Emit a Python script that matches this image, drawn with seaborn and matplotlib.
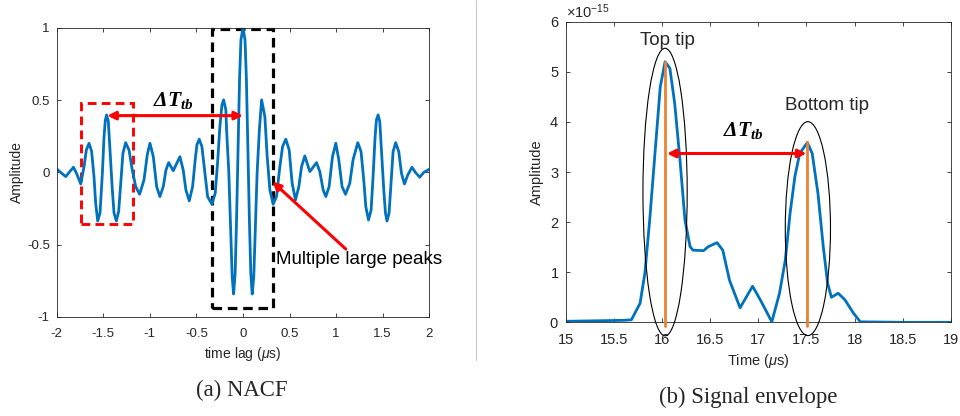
import numpy as np
import pandas as pd
import matplotlib
matplotlib.use("Agg")
import matplotlib.pyplot as plt
from matplotlib.patches import Rectangle, Ellipse
from matplotlib.ticker import ScalarFormatter
import seaborn as sns

# ---------------- data ----------------
# (a) NACF curve
lag_us = [-2.00, -1.957, -1.903, -1.86, -1.82, -1.785, -1.742, -1.707, -1.682, -1.653,
          -1.625, -1.60, -1.582, -1.56, -1.535, -1.51, -1.492, -1.478, -1.464, -1.446,
          -1.428, -1.403, -1.385, -1.36, -1.335, -1.313, -1.289, -1.26, -1.224, -1.189,
          -1.152, -1.11, -1.063, -1.028, -0.999, -0.963, -0.927, -0.892, -0.856, -0.827,
          -0.798, -0.749, -0.677, -0.642, -0.613, -0.577, -0.541, -0.513, -0.495, -0.47,
          -0.441, -0.409, -0.38, -0.334, -0.298, -0.273, -0.248, -0.226, -0.208, -0.184,
          -0.176, -0.152, -0.13, -0.116, -0.101, -0.084, -0.069, -0.052, -0.037, -0.022,
          0.0,
          0.022, 0.037, 0.052, 0.069, 0.084, 0.099, 0.116, 0.13, 0.152, 0.176,
          0.2, 0.235, 0.26, 0.289, 0.324, 0.36, 0.396, 0.425, 0.46, 0.496,
          0.528, 0.564, 0.60, 0.629, 0.664, 0.718, 0.79, 0.825, 0.861, 0.89,
          0.925, 0.961, 0.997, 1.029, 1.064, 1.101, 1.147, 1.182, 1.233, 1.268,
          1.297, 1.319, 1.348, 1.376, 1.397, 1.419, 1.433, 1.451, 1.469, 1.487,
          1.512, 1.53, 1.547, 1.569, 1.59, 1.612, 1.64, 1.673, 1.702, 1.734,
          1.77, 1.815, 1.852, 1.898, 1.941, 2.0]
nacf = [0.024, 0.0, -0.029, 0.006, 0.036, -0.01, -0.08, 0.04, 0.156, 0.202,
        0.144, -0.029, -0.213, -0.336, -0.28, -0.006, 0.248, 0.363, 0.398, 0.352,
        0.156, -0.121, -0.28, -0.336, -0.27, -0.075, 0.133, 0.206, 0.156, 0.017,
        -0.098, -0.151, -0.052, 0.121, 0.202, 0.109, -0.098, -0.167, -0.098, 0.017,
        0.068, 0.012, 0.109, 0.017, -0.121, -0.197, -0.098, 0.087, 0.19, 0.23,
        0.179, -0.006, -0.167, -0.22, -0.144, 0.064, 0.317, 0.467, 0.502, 0.433,
        0.294, 0.0, -0.444, -0.721, -0.841, -0.698, -0.329, 0.179, 0.64, 0.917,
        1.0,
        0.917, 0.64, 0.179, -0.329, -0.698, -0.841, -0.721, -0.444, 0.0, 0.294,
        0.502, 0.386, 0.109, -0.121, -0.22, -0.167, 0.04, 0.179, 0.23, 0.156,
        -0.075, -0.19, -0.098, 0.04, 0.114, 0.006, 0.068, 0.006, -0.121, -0.167,
        -0.098, 0.109, 0.202, 0.087, -0.098, -0.151, -0.075, 0.087, 0.206, 0.144,
        -0.052, -0.236, -0.329, -0.26, -0.029, 0.248, 0.363, 0.398, 0.352, 0.156,
        -0.121, -0.28, -0.336, -0.28, -0.075, 0.144, 0.206, 0.144, -0.006, -0.08,
        -0.017, 0.036, 0.0, -0.033, 0.0, 0.022]

# (b) Signal envelope (amplitude in units of 1e-15)
time_us = [15.0, 15.3, 15.6, 15.68, 15.77, 15.82, 15.87, 15.925, 15.98, 16.03,
           16.08, 16.13, 16.185, 16.237, 16.29, 16.32, 16.43, 16.48, 16.57, 16.63,
           16.70, 16.81, 16.94, 17.02, 17.14, 17.22, 17.28, 17.33, 17.38, 17.43,
           17.51, 17.56, 17.62, 17.675, 17.72, 17.76, 17.83, 17.90, 17.99, 18.06,
           18.5, 19.0]
envelope = [0.02, 0.03, 0.04, 0.05, 0.38, 0.98, 2.04, 3.37, 4.70, 5.20,
            5.07, 4.37, 3.24, 2.04, 1.51, 1.44, 1.43, 1.51, 1.59, 1.44,
            0.84, 0.29, 0.72, 0.45, 0.01, 0.58, 1.24, 2.18, 2.91, 3.37,
            3.59, 3.37, 2.57, 1.51, 0.78, 0.50, 0.58, 0.45, 0.18, 0.01,
            0.0, 0.0]
env_scale = 1e-15

tip_times = [16.03, 17.51]
tip_values = [5.20, 3.59]

left_xticks = [-2, -1.5, -1, -0.5, 0, 0.5, 1, 1.5, 2]
left_yticks = [-1, -0.5, 0, 0.5, 1]
right_xticks = [15, 15.5, 16, 16.5, 17, 17.5, 18, 18.5, 19]
right_yticks = [0, 1, 2, 3, 4, 5, 6]

# ---------------- style ----------------
sns.set_style("ticks")
plt.rcParams["font.family"] = ["Liberation Sans", "DejaVu Sans"]
plt.rcParams["axes.unicode_minus"] = False
plt.rcParams["mathtext.fontset"] = "custom"
plt.rcParams["mathtext.bf"] = "Liberation Serif:bold:italic"
plt.rcParams["mathtext.it"] = "Liberation Sans:italic"
plt.rcParams["mathtext.rm"] = "Liberation Sans"

BLUE = "#0072BD"
ORANGE = "#EE8230"
RED = "#FF0000"
AXC = "#262626"
SERIF = ["Liberation Serif", "DejaVu Serif"]

fig = plt.figure(figsize=(9.6, 4.16), dpi=100)
axL = fig.add_axes([0.0591, 0.238, 0.388, 0.695])
axR = fig.add_axes([0.5896, 0.2252, 0.4007, 0.7226])

df_a = pd.DataFrame({"lag": lag_us, "nacf": nacf})
df_b = pd.DataFrame({"t": time_us, "env": np.array(envelope) * env_scale})

sns.lineplot(data=df_a, x="lag", y="nacf", ax=axL, color=BLUE, lw=2.0,
             sort=False, solid_joinstyle="round")
sns.lineplot(data=df_b, x="t", y="env", ax=axR, color=BLUE, lw=2.0,
             sort=False, solid_joinstyle="round")

for ax, fs in ((axL, 9.5), (axR, 10.5)):
    for s in ax.spines.values():
        s.set_color(AXC)
        s.set_linewidth(0.6)
    ax.tick_params(direction="in", top=True, right=True, length=3,
                   width=0.6, colors=AXC, labelsize=fs, labelcolor=AXC)
axL.tick_params(axis="x", pad=8)
axL.tick_params(axis="y", pad=5)
axR.tick_params(axis="x", pad=7.5)
axR.tick_params(axis="y", pad=5)

# ----- left panel -----
axL.set_xlim(-2, 2)
axL.set_ylim(-1, 1)
axL.set_xticks(left_xticks)
axL.set_xticklabels([f"{v:g}" for v in left_xticks])
axL.set_yticks(left_yticks)
axL.set_yticklabels([f"{v:g}" for v in left_yticks])
axL.set_xlabel(r"time lag ($\mathit{\mu}$s)", fontsize=10, color=AXC, labelpad=3.5)
axL.set_ylabel("Amplitude", fontsize=10, color=AXC, labelpad=2)

axL.add_patch(Rectangle((-1.74, -0.356), 0.555, 0.835, fill=False, ec=RED,
                        lw=2.1, ls=(0, (3, 1.8))))
axL.add_patch(Rectangle((-0.337, -0.94), 0.662, 1.93, fill=False, ec="black",
                        lw=2.3, ls=(0, (3, 1.8)), clip_on=False))
axL.annotate("", xy=(-1.457, 0.393), xytext=(0.0, 0.393),
             arrowprops=dict(arrowstyle="<|-|>", color=RED, lw=2.2,
                             mutation_scale=12, shrinkA=0, shrinkB=0))
axL.text(-0.75, 0.50, r"$\mathbf{\Delta T_{tb}}$", fontsize=15.5,
         ha="center", va="center", color="black")
axL.annotate("", xy=(0.317, -0.064), xytext=(1.104, -0.53),
             arrowprops=dict(arrowstyle="-|>", color=RED, lw=2.2,
                             mutation_scale=12, shrinkA=0, shrinkB=0))
axL.text(0.36, -0.60, "Multiple large peaks", fontsize=13.5, ha="left",
         va="center", color="black")

# ----- right panel -----
axR.set_xlim(15, 19)
axR.set_ylim(0, 6e-15)
axR.set_xticks(right_xticks)
axR.set_xticklabels([f"{v:g}" for v in right_xticks])
axR.set_yticks([v * env_scale for v in right_yticks])
fmt = ScalarFormatter(useMathText=True)
fmt.set_powerlimits((0, 0))
axR.yaxis.set_major_formatter(fmt)
axR.yaxis.get_offset_text().set_fontsize(10.5)
axR.yaxis.get_offset_text().set_color(AXC)
axR.set_xlabel(r"Time ($\mathit{\mu}$s)", fontsize=10.5, color=AXC, labelpad=3.5)
axR.set_ylabel("Amplitude", fontsize=10.5, color=AXC, labelpad=4)

for tt, tv in zip(tip_times, tip_values):
    axR.plot([tt, tt], [-0.08e-15, tv * env_scale], color=ORANGE, lw=2.0,
             clip_on=False, zorder=3)
axR.add_patch(Ellipse((16.03, 2.6e-15), 0.46, 5.74e-15, fill=False, ec="black",
                      lw=0.8, clip_on=False, zorder=4))
axR.add_patch(Ellipse((17.515, 1.87e-15), 0.47, 4.27e-15, fill=False, ec="black",
                      lw=0.8, clip_on=False, zorder=4))
axR.annotate("", xy=(16.05, 3.37e-15), xytext=(17.5, 3.37e-15),
             arrowprops=dict(arrowstyle="<|-|>", color=RED, lw=2.2,
                             mutation_scale=12, shrinkA=0, shrinkB=0), zorder=5)
axR.text(16.84, 3.82e-15, r"$\mathbf{\Delta T_{tb}}$", fontsize=15.5,
         ha="center", va="center", color="black")
axR.text(16.05, 5.63e-15, "Top tip", fontsize=13.5, ha="center", va="center")
axR.text(17.71, 4.32e-15, "Bottom tip", fontsize=13.5, ha="center", va="center")

# captions
fig.text(242 / 960, 1 - 390 / 416, "(a) NACF", fontsize=16.4,
         family=SERIF, ha="center", va="center")
fig.text(748 / 960, 1 - 397 / 416, "(b) Signal envelope", fontsize=16.4,
         family=SERIF, ha="center", va="center")

# separator line
fig.add_artist(plt.Line2D([476 / 960, 476 / 960], [1 - 360 / 416, 1.0],
                          transform=fig.transFigure, color="#C8C8C8", lw=0.8))

fig.savefig("out.png", dpi=100)
